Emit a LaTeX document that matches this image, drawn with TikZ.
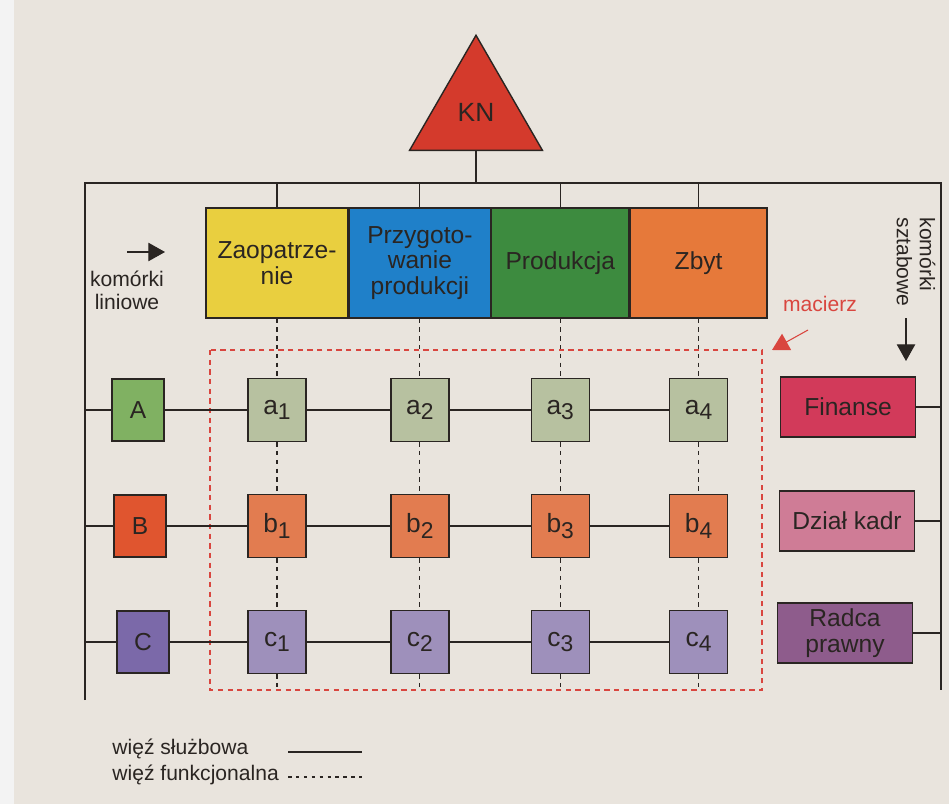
\documentclass[tikz,border=0pt]{standalone}
\usepackage{fontspec}
\setmainfont{Liberation Sans}
\usepackage{tikz}
\usetikzlibrary{positioning,arrows.meta,shapes.geometric}
\definecolor{Paper}{HTML}{E9E4DD}
\definecolor{Screen}{HTML}{F3F3F3}
\definecolor{Ink}{HTML}{2A2522}
\definecolor{KNRed}{HTML}{D43A2C}
\definecolor{ZaopYellow}{HTML}{E9CF3F}
\definecolor{PrzygBlue}{HTML}{1F80C9}
\definecolor{ProdGreen}{HTML}{3D8B3F}
\definecolor{ZbytOrange}{HTML}{E6793A}
\definecolor{RowAGreen}{HTML}{80B162}
\definecolor{CellA}{HTML}{B7C1A0}
\definecolor{RowBRed}{HTML}{E0552F}
\definecolor{CellB}{HTML}{E27C50}
\definecolor{RowCViolet}{HTML}{7B69A9}
\definecolor{CellC}{HTML}{9E90BB}
\definecolor{FinRed}{HTML}{D23A5A}
\definecolor{KadrPink}{HTML}{CF7C96}
\definecolor{RadcaPlum}{HTML}{8E5C8C}
\definecolor{MacRed}{HTML}{D9463F}
\newcommand{\cellsub}[2]{#1\raisebox{-0.4ex}{\fontsize{13}{13}\selectfont #2}}

\begin{document}
\begin{tikzpicture}[x=0.02cm, y=-0.02cm, line width=0.6pt, draw=Ink,
  every node/.style={font=\fontsize{14}{14.5}\selectfont, align=center, text=Ink},
  dept/.style={draw=Ink, line width=0.8pt, minimum height=2.2cm, inner sep=1pt},
  cell/.style={draw=Ink, line width=0.8pt, minimum width=1.16cm, minimum height=1.26cm, font=\fontsize{15}{15}\selectfont},
  rowbox/.style={draw=Ink, line width=0.8pt, minimum width=1.04cm, minimum height=1.24cm},
  staff/.style={draw=Ink, line width=0.8pt, minimum width=2.7cm, minimum height=1.2cm, inner sep=1pt},
  small/.style={font=\fontsize{12}{13}\selectfont},
  func/.style={dash pattern=on 2.5pt off 2.5pt},
  arr/.style={-{Triangle[length=9.5pt,width=10.5pt]}}]
  \useasboundingbox[fill=Paper] (0,0) rectangle (949,804);
  \fill[Screen] (0,0) rectangle (14,804);

  % frame of the line structure
  \coordinate (tl) at (85,183);
  \coordinate (tr) at (941,183);
  \coordinate (bl) at (85,700);
  \coordinate (br) at (941,690);
  \draw (bl) -- (tl) -- (tr) -- (br);

  \node[draw=Ink, fill=KNRed, line width=0.8pt, regular polygon, regular polygon sides=3, minimum size=3.07cm, inner sep=0pt, font=\fontsize{15}{15}\selectfont] (kn) at (476,112) {KN};
  \draw (kn.south) -- (kn.south |- tl);

  \node[dept, fill=ZaopYellow, minimum width=2.84cm] (zaop) at (277,263) {Zaopatrze-\\nie};
  \node[dept, fill=PrzygBlue, minimum width=2.82cm, right=0pt of zaop] (przyg) {Przygoto-\\wanie\\produkcji};
  \node[dept, fill=ProdGreen, minimum width=2.74cm, right=0pt of przyg] (prod) {Produkcja};
  \node[dept, fill=ZbytOrange, minimum width=2.74cm, right=0pt of prod] (zbyt) {Zbyt};
  \draw (zaop.north) -- (zaop.north |- tl);
  \draw (przyg.north) -- (przyg.north |- tl);
  \draw (prod.north) -- (prod.north |- tl);
  \draw (zbyt.north) -- (zbyt.north |- tl);

  % matrix
  \coordinate (mtl) at (210,350);
  \coordinate (mbr) at (762,690);
  \draw[MacRed, line width=1.3pt, dash pattern=on 3pt off 2.5pt] (mtl) rectangle (mbr);

  \node[rowbox, fill=RowAGreen] (rA) at (138,410) {A};
  \node[rowbox, fill=RowBRed] (rB) at (140,526) {B};
  \node[rowbox, fill=RowCViolet] (rC) at (143,642) {C};

  \node[cell, fill=CellA] (a1) at (zaop |- rA) {\cellsub{a}{1}};
  \node[cell, fill=CellA] (a2) at (przyg |- rA) {\cellsub{a}{2}};
  \node[cell, fill=CellA] (a3) at (prod |- rA) {\cellsub{a}{3}};
  \node[cell, fill=CellA] (a4) at (zbyt |- rA) {\cellsub{a}{4}};
  \node[cell, fill=CellB] (b1) at (zaop |- rB) {\cellsub{b}{1}};
  \node[cell, fill=CellB] (b2) at (przyg |- rB) {\cellsub{b}{2}};
  \node[cell, fill=CellB] (b3) at (prod |- rB) {\cellsub{b}{3}};
  \node[cell, fill=CellB] (b4) at (zbyt |- rB) {\cellsub{b}{4}};
  \node[cell, fill=CellC] (c1) at (zaop |- rC) {\cellsub{c}{1}};
  \node[cell, fill=CellC] (c2) at (przyg |- rC) {\cellsub{c}{2}};
  \node[cell, fill=CellC] (c3) at (prod |- rC) {\cellsub{c}{3}};
  \node[cell, fill=CellC] (c4) at (zbyt |- rC) {\cellsub{c}{4}};

  % line links (rows)
  \draw (rA.west -| tl) -- (rA.west);
  \draw (rA) -- (a1) -- (a2) -- (a3) -- (a4);
  \draw (rB.west -| tl) -- (rB.west);
  \draw (rB) -- (b1) -- (b2) -- (b3) -- (b4);
  \draw (rC.west -| tl) -- (rC.west);
  \draw (rC) -- (c1) -- (c2) -- (c3) -- (c4);

  % functional links (columns)
  \draw[func] (zaop.south) -- (a1.north) (a1.south) -- (b1.north) (b1.south) -- (c1.north) (c1.south) -- (c1.south |- mbr);
  \draw[func] (przyg.south) -- (a2.north) (a2.south) -- (b2.north) (b2.south) -- (c2.north) (c2.south) -- (c2.south |- mbr);
  \draw[func] (prod.south) -- (a3.north) (a3.south) -- (b3.north) (b3.south) -- (c3.north) (c3.south) -- (c3.south |- mbr);
  \draw[func] (zbyt.south) -- (a4.north) (a4.south) -- (b4.north) (b4.south) -- (c4.north) (c4.south) -- (c4.south |- mbr);

  % staff cells
  \node[staff, fill=FinRed] (fin) at (848,407) {Finanse};
  \node[staff, fill=KadrPink] (kadr) at (847,521) {Dział kadr};
  \node[staff, fill=RadcaPlum] (radca) at (845,633) {Radca\\prawny};
  \draw (fin.east) -- (fin.east -| tr);
  \draw (kadr.east) -- (kadr.east -| tr);
  \draw (radca.east) -- (radca.east -| tr);

  % labels
  \node[small] (lin) at (127,290) {komórki\\liniowe};
  \coordinate (linA) at (127,252);
  \coordinate (linB) at (165,252);
  \draw[arr] (linA) -- (linB);

  \node[small, rotate=-90, align=left] (szt) at (916,262) {komórki\\sztabowe};
  \coordinate (sztA) at (906,318);
  \coordinate (sztB) at (906,361);
  \draw[arr] (sztA) -- (sztB);

  \node[small, text=MacRed] (mac) at (820,304) {macierz};
  \coordinate (macA) at (808,330);
  \coordinate (macB) at (772,350);
  \draw[MacRed, arr] (macA) -- (macB);

  % legend
  \node[small, anchor=west] (leg1) at (106,749) {więź służbowa};
  \node[small, anchor=west] (leg2) at (106,775) {więź funkcjonalna};
  \coordinate (leg1A) at (288,752);
  \coordinate (leg1B) at (362,752);
  \coordinate (leg2A) at (288,777);
  \coordinate (leg2B) at (362,777);
  \draw (leg1A) -- (leg1B);
  \draw[dash pattern=on 2pt off 2.5pt] (leg2A) -- (leg2B);
\end{tikzpicture}
\end{document}
